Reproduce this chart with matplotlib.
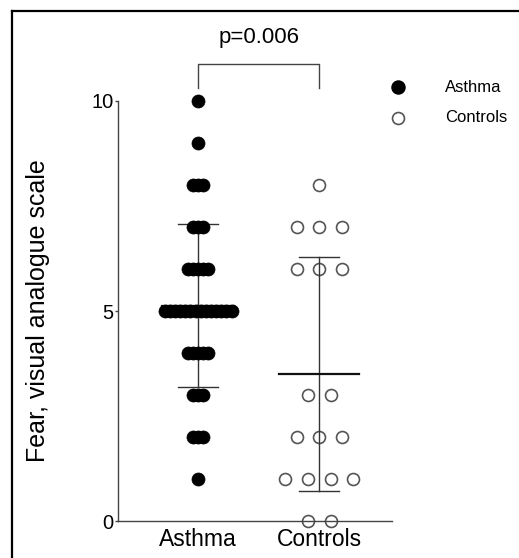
import numpy as np
import matplotlib
matplotlib.use("Agg")
from matplotlib import pyplot as plt
from matplotlib.lines import Line2D

plt.rcParams['font.family'] = ['Liberation Sans', 'DejaVu Sans']

# VAS fear scores: value -> number of subjects
groups = ['Asthma', 'Controls']
asthma_levels = [10, 9, 8, 7, 6, 5, 4, 3, 2, 1]
asthma_counts = [1, 1, 3, 3, 5, 14, 5, 3, 3, 1]
control_levels = [8, 7, 6, 3, 2, 1, 0]
control_counts = [1, 3, 3, 2, 3, 4, 2]
p_text = 'p=0.006'

asthma = np.repeat(asthma_levels, asthma_counts).astype(float)
controls = np.repeat(control_levels, control_counts).astype(float)

fig = plt.figure(figsize=(5.19, 5.58), dpi=100)
ax = fig.add_axes([0.2274, 0.0663, 0.528, 0.7527])
ax.set_xlim(0.339, 2.60)
ax.set_ylim(0, 10)

line_col = '#333333'

def spread(levels, counts, centre, step):
    xs, ys = [], []
    for v, n in zip(levels, counts):
        for i in range(n):
            xs.append(centre + (i - (n - 1) / 2) * step)
            ys.append(v)
    return xs, ys

# mean +/- SD bars
for pos, vals in zip([1, 2], [asthma, controls]):
    m = vals.mean()
    sd = vals.std(ddof=1)
    ax.plot([pos, pos], [m - sd, m + sd], color=line_col, lw=1, zorder=2)
    ax.plot([pos - 0.165, pos + 0.165], [m - sd] * 2, color=line_col, lw=1, zorder=2)
    ax.plot([pos - 0.165, pos + 0.165], [m + sd] * 2, color=line_col, lw=1, zorder=2)
    half = 0.30 if pos == 1 else 0.33
    ax.plot([pos - half, pos + half], [m, m], color='#111111', lw=1.6, zorder=2)

ax_x, ax_y = spread(asthma_levels, asthma_counts, 1, 0.0425)
ax.plot(ax_x, ax_y, 'o', ms=9.4, color='black', mec='black', mew=0.5,
        ls='none', zorder=3, clip_on=False)
cx, cy = spread(control_levels, control_counts, 2, 0.187)
ax.plot(cx, cy, 'o', ms=8.6, mfc='none', mec='#555555', mew=1.2,
        ls='none', zorder=1, clip_on=False)

# axes styling
for s in ['top', 'right']:
    ax.spines[s].set_visible(False)
ax.spines['left'].set_color('#444444')
ax.spines['bottom'].set_color('#444444')
ax.spines['left'].set_linewidth(1)
ax.spines['bottom'].set_linewidth(1)
ax.set_yticks([0, 5, 10])
ax.tick_params(axis='y', length=2, width=1, color='#444444', pad=1, labelsize=14.5)
ax.set_xticks([1, 2])
ax.set_xticklabels(groups)
ax.tick_params(axis='x', length=0, pad=5, labelsize=16.5)
ax.set_ylabel('Fear, visual analogue scale', fontsize=18, labelpad=30)

# significance bracket
ax.plot([1, 1, 2, 2], [10.31, 10.88, 10.88, 10.31], color='#444444', lw=1,
        clip_on=False)
ax.text(1.5, 11.5, p_text, ha='center', va='center', fontsize=16)

# legend
ax.plot([2.645], [10.33], 'o', ms=9.4, color='black', clip_on=False)
ax.plot([2.645], [9.6], 'o', ms=8.6, mfc='none', mec='#555555', mew=1.2,
        clip_on=False)
ax.text(3.04, 10.33, 'Asthma', ha='left', va='center', fontsize=12)
ax.text(3.04, 9.6, 'Controls', ha='left', va='center', fontsize=12)

# outer frame (cut at right and bottom edge)
fig.add_artist(Line2D([12 / 519, 12 / 519], [0, 1 - 10.5 / 558],
                      color='black', lw=1.6, transform=fig.transFigure))
fig.add_artist(Line2D([12 / 519, 1], [1 - 10.5 / 558] * 2,
                      color='black', lw=1.6, transform=fig.transFigure))

fig.savefig('out.png', dpi=100)
